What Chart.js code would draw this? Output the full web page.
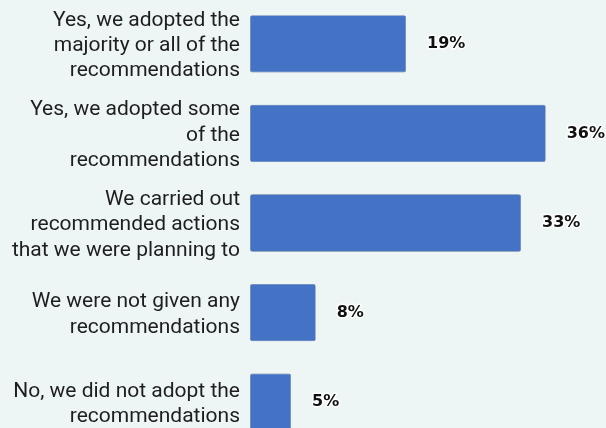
<!DOCTYPE html>
<html>
<head>
<meta charset="utf-8">
<script src="https://cdn.jsdelivr.net/npm/chart.js@4.4.1/dist/chart.umd.min.js"></script>
<style>
  html, body { margin: 0; padding: 0; background: #eef6f5; overflow: hidden; }
  #wrap { position: absolute; left: 0; top: -1px; width: 606px; height: 448px; }
</style>
</head>
<body>
<div id="wrap"><canvas id="c"></canvas></div>
<script>
// Survey answers: did the organisation adopt the recommendations?
const categories = [
  ["Yes, we adopted the", "majority or all of the", "recommendations"],
  ["Yes, we adopted some", "of the", "recommendations"],
  ["We carried out", "recommended actions", "that we were planning to"],
  ["We were not given any", "recommendations"],
  ["No, we did not adopt the", "recommendations"]
];
const shares = [19, 36, 33, 8, 5];   // percent of respondents
const xMax = 42;

// Bold percentage labels just past the end of each bar
const valueLabels = {
  id: 'valueLabels',
  afterDatasetsDraw(chart) {
    const ctx = chart.ctx;
    const meta = chart.getDatasetMeta(0);
    ctx.save();
    ctx.font = 'bold 16px "DejaVu Sans"';
    ctx.textAlign = 'left';
    ctx.textBaseline = 'middle';
    ctx.lineJoin = 'round';
    meta.data.forEach((bar, i) => {
      const txt = shares[i] + '%';
      const x = bar.x + 21;
      const y = bar.y;
      ctx.lineWidth = 3;
      ctx.strokeStyle = '#ffffff';
      ctx.strokeText(txt, x, y);
      ctx.fillStyle = '#111111';
      ctx.fillText(txt, x, y);
    });
    ctx.restore();
  }
};

new Chart(document.getElementById('c'), {
  type: 'bar',
  data: {
    labels: categories,
    datasets: [{
      data: shares,
      backgroundColor: '#4472c4',
      borderColor: '#5a6f96',
      borderWidth: 0.6,
      borderRadius: 2,
      borderSkipped: false,
      categoryPercentage: 1,
      barPercentage: 0.64
    }]
  },
  options: {
    indexAxis: 'y',
    responsive: true,
    maintainAspectRatio: false,
    animation: false,
    layout: { padding: { left: 0, right: 11, top: 0, bottom: 0 } },
    plugins: {
      legend: { display: false },
      tooltip: { enabled: false }
    },
    scales: {
      x: {
        display: false,
        min: 0,
        max: xMax
      },
      y: {
        grid: { display: false, drawTicks: false },
        border: { display: false },
        afterFit(scale) {
          scale.width = 250;
          scale.paddingTop = 0;
          scale.paddingBottom = 0;
        },
        ticks: {
          padding: 10,
          labelOffset: 2,
          color: '#1e1e1e',
          font: { family: 'Roboto', size: 21, lineHeight: 1.205 }
        }
      }
    }
  },
  plugins: [valueLabels]
});
</script>
</body>
</html>
